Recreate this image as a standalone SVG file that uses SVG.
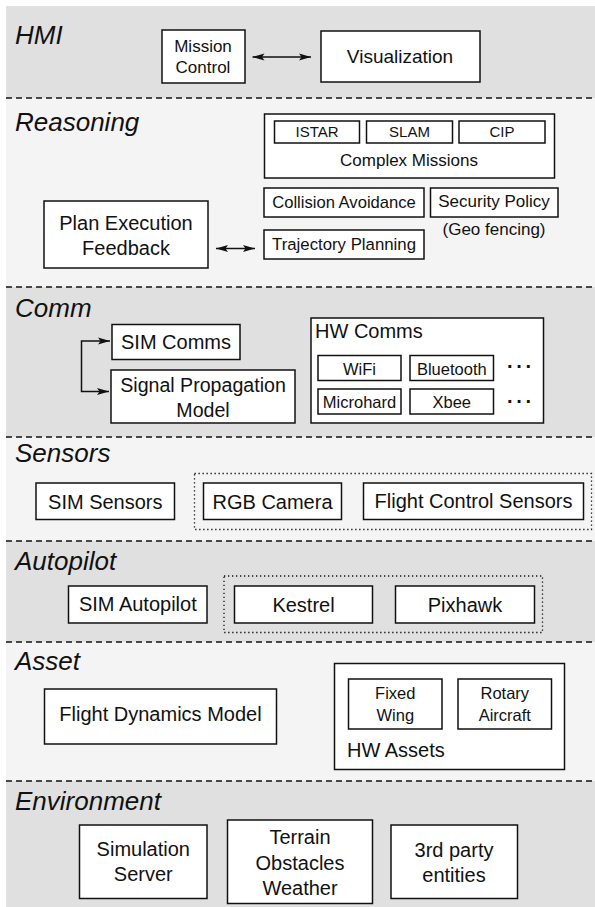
<svg xmlns="http://www.w3.org/2000/svg" width="595" height="907" viewBox="0 0 595 907">
<style>
.bandD{fill:#e0e0e0}
.bandL{fill:#f4f4f4}
.sep{stroke:#111;stroke-width:1.4;stroke-dasharray:6,4;fill:none}
.dot{stroke:#111;stroke-width:1.3;stroke-dasharray:1.3,2.7;fill:none}
.box{fill:#fff;stroke:#111;stroke-width:1.5}
.lay{font-family:"Liberation Sans",Arial,sans-serif;font-style:italic;font-size:26px;fill:#111}
text{font-family:"Liberation Sans",Arial,sans-serif;fill:#111}
.c{text-anchor:middle}
.ell{font-size:20px;font-weight:bold;letter-spacing:2.6px}
.conn{stroke:#111;stroke-width:1.5;fill:none}
</style>
<defs>
<marker id="ah" markerUnits="userSpaceOnUse" markerWidth="12" markerHeight="8" refX="12" refY="4" orient="auto-start-reverse">
<path d="M0,0.5 L12,4 L0,7.5 L2.5,4 z" fill="#111"/>
</marker>
</defs>
<g id="bands">
<rect class="bandD" x="6" y="6" width="589" height="92"/>
<rect class="bandL" x="6" y="98" width="589" height="189"/>
<rect class="bandD" x="6" y="287" width="589" height="150"/>
<rect class="bandL" x="6" y="437" width="589" height="104"/>
<rect class="bandD" x="6" y="541" width="589" height="101"/>
<rect class="bandL" x="6" y="642" width="589" height="139"/>
<rect class="bandD" x="6" y="781" width="589" height="126"/>
<line class="sep" x1="6" y1="98" x2="595" y2="98"/>
<line class="sep" x1="6" y1="287" x2="595" y2="287"/>
<line class="sep" x1="6" y1="437" x2="595" y2="437"/>
<line class="sep" x1="6" y1="541" x2="595" y2="541"/>
<line class="sep" x1="6" y1="642" x2="595" y2="642"/>
<line class="sep" x1="6" y1="781" x2="595" y2="781"/>
<text class="lay" x="15" y="44">HMI</text>
<text class="lay" x="15" y="131">Reasoning</text>
<text class="lay" x="15" y="317">Comm</text>
<text class="lay" x="15" y="462">Sensors</text>
<text class="lay" x="15" y="570">Autopilot</text>
<text class="lay" x="15" y="670">Asset</text>
<text class="lay" x="15" y="810">Environment</text>
</g>
<g id="mission-control">
<rect class="box" x="162" y="30" width="83" height="53"/>
<text class="c" x="203" y="52" font-size="17">Mission</text>
<text class="c" x="203" y="73" font-size="17">Control</text>
</g>
<g id="visualization">
<rect class="box" x="321" y="31" width="159" height="51"/>
<text class="c" x="400" y="63" font-size="19">Visualization</text>
</g>
<g id="complex-missions">
<rect class="box" x="264.5" y="114" width="290" height="64"/>
<text class="c" x="409" y="166" font-size="17">Complex Missions</text>
</g>
<g id="istar">
<rect class="box" x="274.5" y="121" width="85" height="22"/>
<text class="c" x="317" y="137" font-size="15">ISTAR</text>
</g>
<g id="slam">
<rect class="box" x="366.5" y="121" width="86" height="22"/>
<text class="c" x="409.5" y="137" font-size="15">SLAM</text>
</g>
<g id="cip">
<rect class="box" x="459" y="121" width="86" height="22"/>
<text class="c" x="502" y="137" font-size="15">CIP</text>
</g>
<g id="collision-avoidance">
<rect class="box" x="264" y="188" width="160" height="29"/>
<text class="c" x="344" y="208" font-size="16.6">Collision Avoidance</text>
</g>
<g id="security-policy">
<rect class="box" x="430.5" y="188" width="127.5" height="29"/>
<text class="c" x="494" y="207" font-size="17">Security Policy</text>
<text class="c" x="494" y="235" font-size="17">(Geo fencing)</text>
</g>
<g id="trajectory-planning">
<rect class="box" x="264" y="230" width="160" height="29"/>
<text class="c" x="344" y="249.5" font-size="16.8">Trajectory Planning</text>
</g>
<g id="plan-execution-feedback">
<rect class="box" x="44" y="201" width="164" height="67"/>
<text class="c" x="126" y="229.5" font-size="20">Plan Execution</text>
<text class="c" x="126" y="255" font-size="20">Feedback</text>
</g>
<g id="sim-comms">
<rect class="box" x="112" y="324.5" width="128" height="35"/>
<text class="c" x="176" y="348.5" font-size="20">SIM Comms</text>
</g>
<g id="signal-propagation-model">
<rect class="box" x="111" y="370" width="184" height="53"/>
<text class="c" x="203" y="391.5" font-size="19.6">Signal Propagation</text>
<text class="c" x="203" y="417" font-size="19.6">Model</text>
</g>
<g id="hw-comms">
<rect class="box" x="311" y="318" width="232.5" height="105"/>
<text x="315" y="338" font-size="20">HW Comms</text>
<text class="ell" x="507" y="373">···</text>
<text class="ell" x="507" y="408">···</text>
</g>
<g id="wifi">
<rect class="box" x="318" y="355.5" width="83" height="25"/>
<text class="c" x="359.5" y="374.5" font-size="16.5">WiFi</text>
</g>
<g id="bluetooth">
<rect class="box" x="410" y="355.5" width="83.5" height="25"/>
<text class="c" x="451.8" y="374.5" font-size="16.5">Bluetooth</text>
</g>
<g id="microhard">
<rect class="box" x="318" y="389" width="83" height="25"/>
<text class="c" x="359.5" y="408.3" font-size="16.5">Microhard</text>
</g>
<g id="xbee">
<rect class="box" x="410" y="389" width="83.5" height="25"/>
<text class="c" x="451.8" y="408.3" font-size="16.5">Xbee</text>
</g>
<g id="sim-sensors">
<rect class="box" x="36" y="483" width="138.5" height="36.5"/>
<text class="c" x="105.3" y="508.5" font-size="20">SIM Sensors</text>
</g>
<g id="hw-sensors">
<rect class="dot" x="194.5" y="473.5" width="397" height="56"/>
</g>
<g id="rgb-camera">
<rect class="box" x="203.5" y="483" width="138" height="36.5"/>
<text class="c" x="272.5" y="508.5" font-size="20">RGB Camera</text>
</g>
<g id="flight-control-sensors">
<rect class="box" x="363.5" y="483" width="220" height="36.5"/>
<text class="c" x="473.5" y="508" font-size="20">Flight Control Sensors</text>
</g>
<g id="sim-autopilot">
<rect class="box" x="68.5" y="586" width="138.5" height="37"/>
<text class="c" x="137.8" y="610.5" font-size="20">SIM Autopilot</text>
</g>
<g id="hw-autopilots">
<rect class="dot" x="224" y="576" width="318.5" height="56.5"/>
</g>
<g id="kestrel">
<rect class="box" x="234.5" y="586" width="138" height="37"/>
<text class="c" x="303.5" y="611.5" font-size="20">Kestrel</text>
</g>
<g id="pixhawk">
<rect class="box" x="395.5" y="586" width="139" height="37"/>
<text class="c" x="465" y="611.5" font-size="20">Pixhawk</text>
</g>
<g id="flight-dynamics-model">
<rect class="box" x="44.5" y="689" width="232" height="55"/>
<text class="c" x="160.5" y="721" font-size="20">Flight Dynamics Model</text>
</g>
<g id="hw-assets">
<rect class="box" x="334.5" y="663.5" width="230" height="106"/>
<text x="347" y="757" font-size="20">HW Assets</text>
</g>
<g id="fixed-wing">
<rect class="box" x="348.5" y="679" width="93.5" height="50"/>
<text class="c" x="395.3" y="698.5" font-size="16.5">Fixed</text>
<text class="c" x="395.3" y="720.5" font-size="16.5">Wing</text>
</g>
<g id="rotary-aircraft">
<rect class="box" x="458" y="679" width="93.5" height="50"/>
<text class="c" x="504.8" y="698.5" font-size="16.5">Rotary</text>
<text class="c" x="504.8" y="720.5" font-size="16.5">Aircraft</text>
</g>
<g id="simulation-server">
<rect class="box" x="79.5" y="825" width="127.5" height="73.5"/>
<text class="c" x="143.3" y="856" font-size="20">Simulation</text>
<text class="c" x="143.3" y="881" font-size="20">Server</text>
</g>
<g id="terrain">
<rect class="box" x="227.5" y="820" width="145" height="83.5"/>
<text class="c" x="300" y="844" font-size="20">Terrain</text>
<text class="c" x="300" y="869.5" font-size="20">Obstacles</text>
<text class="c" x="300" y="895" font-size="20">Weather</text>
</g>
<g id="third-party">
<rect class="box" x="391" y="825" width="126.5" height="73.5"/>
<text class="c" x="454" y="857" font-size="20">3rd party</text>
<text class="c" x="454" y="882" font-size="20">entities</text>
</g>
<g id="connectors">
<line class="conn" x1="252.5" y1="57" x2="311" y2="57" marker-start="url(#ah)" marker-end="url(#ah)"/>
<line class="conn" x1="216" y1="248.5" x2="255" y2="248.5" marker-start="url(#ah)" marker-end="url(#ah)"/>
<path class="conn" d="M110,341 H81.5 V391.5 H109" marker-start="url(#ah)" marker-end="url(#ah)"/>
</g>
</svg>
